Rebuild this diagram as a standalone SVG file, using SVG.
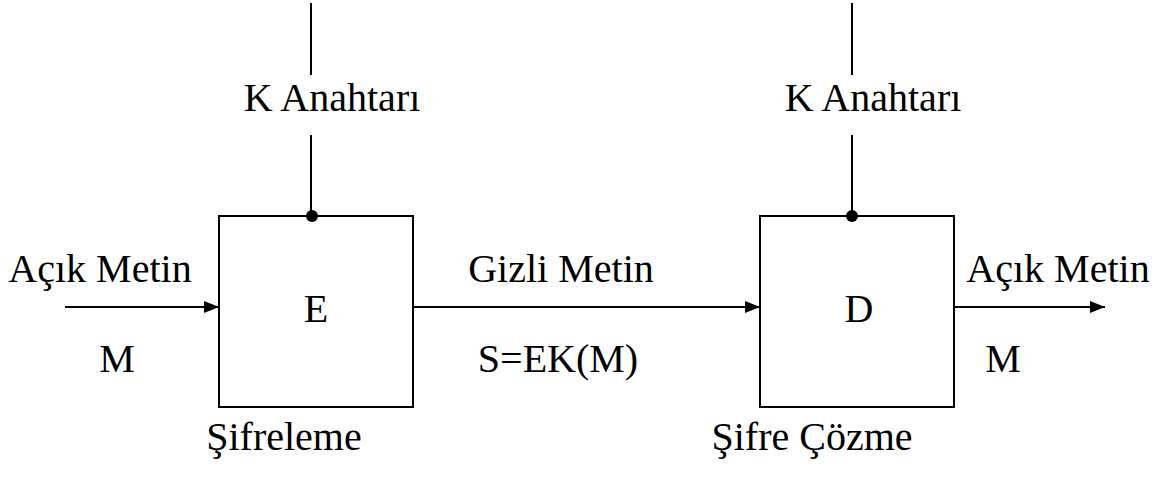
<svg xmlns="http://www.w3.org/2000/svg" width="1155" height="477" viewBox="0 0 1155 477">
  <style>
    .box { fill: #fff; stroke: #000; stroke-width: 2; }
    .line { stroke: #000; stroke-width: 2; fill: none; }
    .lbl { font-family: "Liberation Serif", "Times New Roman", serif; font-size: 40px; fill: #000; }
  </style>
  <defs>
    <marker id="arrow" viewBox="0 0 15 12" refX="15" refY="6" markerWidth="15" markerHeight="12" markerUnits="userSpaceOnUse" orient="auto">
      <path d="M0,0 L15,6 L0,12 Z" fill="#000"/>
    </marker>
  </defs>
  <rect width="1155" height="477" fill="#fff"/>

  <g id="connectors">
    <!-- key inputs -->
    <line class="line" x1="311" y1="3" x2="311" y2="75"/>
    <line class="line" x1="311" y1="135" x2="311" y2="216"/>
    <line class="line" x1="852" y1="3" x2="852" y2="75"/>
    <line class="line" x1="852" y1="135" x2="852" y2="216"/>
    <!-- data flow -->
    <line class="line" x1="65" y1="307" x2="219" y2="307" marker-end="url(#arrow)"/>
    <line class="line" x1="413" y1="307" x2="760" y2="307" marker-end="url(#arrow)"/>
    <line class="line" x1="954" y1="307" x2="1105" y2="307" marker-end="url(#arrow)"/>
  </g>

  <g id="encrypt">
    <rect class="box" x="219" y="216" width="194" height="191"/>
    <circle cx="312" cy="216" r="6" fill="#000"/>
    <text class="lbl" x="316" y="322" text-anchor="middle">E</text>
    <text class="lbl" x="284" y="450" text-anchor="middle">Şifreleme</text>
  </g>

  <g id="decrypt">
    <rect class="box" x="760" y="216" width="194" height="191"/>
    <circle cx="852" cy="216" r="6" fill="#000"/>
    <text class="lbl" x="859" y="322" text-anchor="middle">D</text>
    <text class="lbl" x="812" y="450" text-anchor="middle">Şifre Çözme</text>
  </g>

  <g id="key-e">
    <text class="lbl" x="332" y="111" text-anchor="middle">K Anahtarı</text>
  </g>
  <g id="key-d">
    <text class="lbl" x="873" y="111" text-anchor="middle">K Anahtarı</text>
  </g>

  <g id="plaintext-in">
    <text class="lbl" x="100" y="282" text-anchor="middle">Açık Metin</text>
    <text class="lbl" x="117" y="372" text-anchor="middle">M</text>
  </g>

  <g id="ciphertext">
    <text class="lbl" x="561" y="282" text-anchor="middle">Gizli Metin</text>
    <text class="lbl" x="558" y="372" text-anchor="middle">S=EK(M)</text>
  </g>

  <g id="plaintext-out">
    <text class="lbl" x="1058" y="282" text-anchor="middle">Açık Metin</text>
    <text class="lbl" x="1003" y="372" text-anchor="middle">M</text>
  </g>
</svg>
